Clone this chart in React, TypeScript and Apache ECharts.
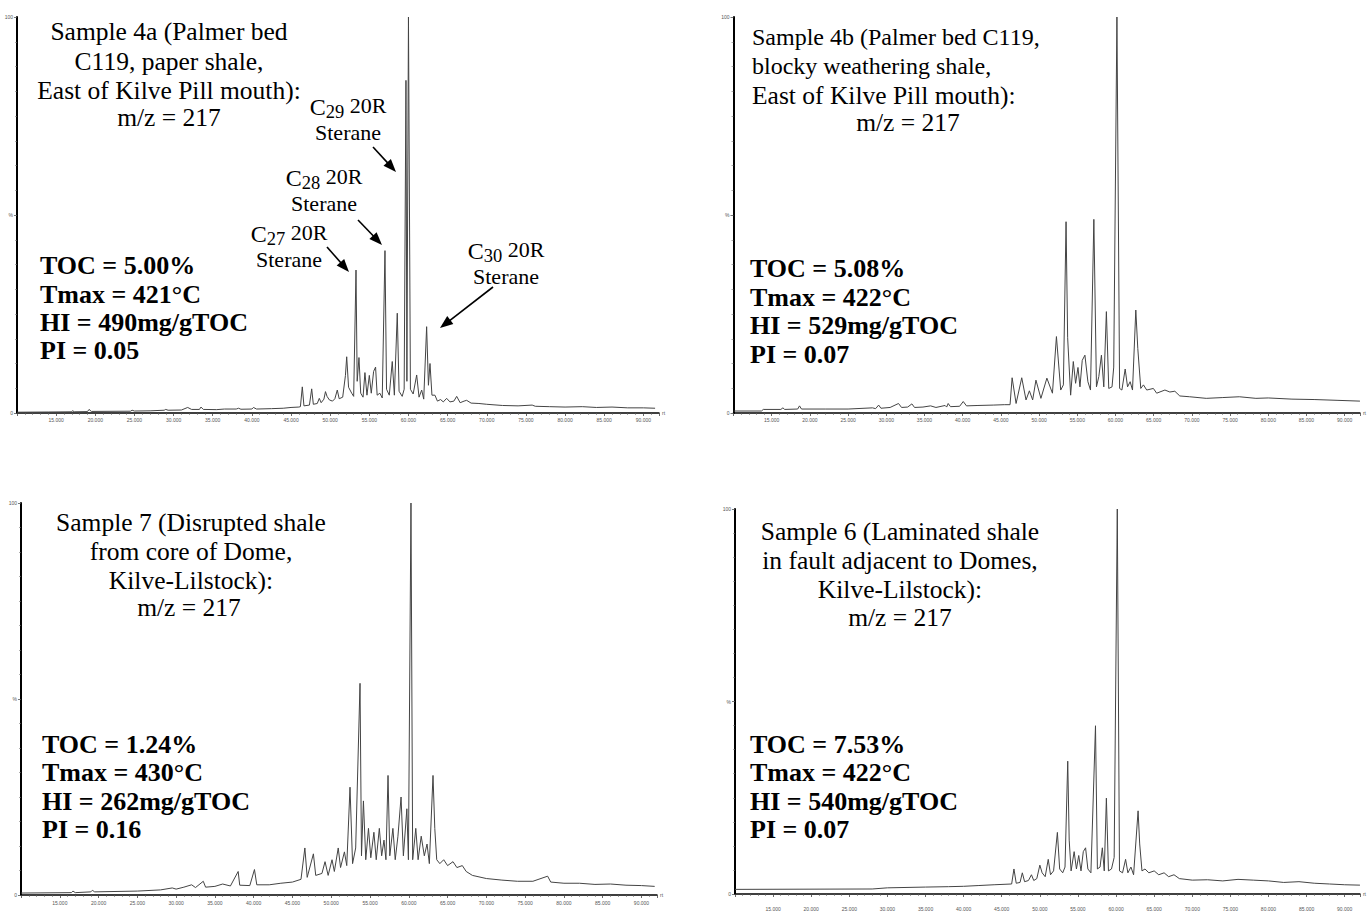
import React, { useEffect, useRef } from 'react';
import * as echarts from 'echarts';

// Retention time (min) vs relative intensity (%)
const sample4a: [number, number][] = [
  [10.0, 0.2], [14.0, 0.25], [17.0, 0.3], [17.1, 0.6], [17.3, 0.3], [19.0, 0.35], [19.2, 0.9], [19.5, 0.4],
  [24.5, 0.45], [24.7, 0.7], [25.0, 0.5], [27.0, 0.55], [28.8, 0.7], [29.0, 0.9], [29.3, 0.7], [31.0, 0.75],
  [31.8, 1.4], [32.3, 0.9], [33.3, 0.9], [33.5, 1.5], [33.8, 0.9], [35.5, 0.85], [36.5, 1.0], [38.0, 1.0],
  [38.3, 1.2], [38.6, 0.95], [40.0, 1.0], [40.2, 1.4], [40.6, 1.0], [42.5, 1.1], [44.0, 1.2], [45.0, 1.4],
  [46.0, 1.5], [46.2, 1.6], [46.44, 6.6], [46.65, 1.8], [47.35, 2.0], [47.64, 6.1], [47.85, 2.2], [48.35, 2.4],
  [48.61, 3.7], [48.85, 2.6], [49.2, 3.5], [49.4, 5.4], [49.6, 4.2], [49.9, 3.3], [50.3, 3.0], [50.6, 3.6],
  [50.91, 5.8], [51.15, 3.6], [51.6, 4.0], [51.95, 9.5], [52.11, 14.2], [52.35, 6.5], [52.75, 5.0], [53.0, 4.2],
  [53.3, 36.1], [53.45, 8.0], [53.68, 14.0], [53.9, 5.0], [54.2, 4.0], [54.44, 10.2], [54.7, 4.5], [55.0, 9.5],
  [55.25, 5.0], [55.55, 10.5], [55.8, 11.6], [56.0, 4.5], [56.35, 5.0], [56.65, 3.8], [57.0, 41.0], [57.2, 6.0],
  [57.55, 4.5], [57.93, 13.0], [58.2, 4.5], [58.57, 25.2], [58.8, 5.5], [59.2, 4.2], [59.45, 6.0], [59.68, 84.0],
  [59.8, 8.0], [60.0, 100.0], [60.25, 6.0], [60.6, 4.8], [61.05, 9.6], [61.35, 4.0], [61.69, 5.8], [61.95, 3.5],
  [62.32, 21.8], [62.55, 7.0], [62.75, 12.5], [63.0, 4.5], [63.38, 4.5], [63.7, 3.0], [64.1, 3.4], [64.45, 2.8],
  [64.88, 3.7], [65.3, 2.8], [65.8, 3.0], [66.16, 4.2], [66.6, 2.6], [67.1, 3.0], [67.43, 3.2], [68.0, 2.5],
  [69.0, 2.4], [70.0, 2.2], [72.0, 1.9], [74.0, 1.8], [75.8, 2.0], [76.2, 1.7], [78.0, 1.6], [80.0, 1.5],
  [82.2, 1.6], [84.0, 1.4], [86.0, 1.5], [88.0, 1.3], [90.0, 1.3], [91.5, 1.2],
];

const sample4b: [number, number][] = [
  [10.0, 0.5], [13.66, 0.5], [13.9, 0.9], [16.2, 0.9], [16.47, 1.3], [16.7, 0.9], [18.4, 1.0], [18.64, 1.8],
  [18.9, 1.0], [22.0, 1.0], [25.0, 1.0], [28.2, 1.3], [28.6, 1.1], [29.0, 2.0], [29.3, 1.2], [30.5, 1.4],
  [31.6, 2.4], [32.0, 1.4], [32.8, 1.5], [33.35, 2.3], [33.7, 1.4], [34.8, 1.5], [35.8, 1.8], [36.5, 1.4],
  [37.7, 1.9], [37.9, 1.5], [38.1, 2.4], [38.4, 1.6], [39.6, 1.7], [40.07, 2.9], [40.5, 1.8], [42.0, 1.9],
  [44.0, 2.0], [45.5, 2.1], [46.2, 2.1], [46.47, 8.9], [46.99, 2.4], [47.73, 8.9], [48.29, 3.3], [48.73, 5.6],
  [49.16, 3.3], [49.59, 8.3], [50.24, 3.7], [51.02, 8.8], [51.75, 5.0], [52.27, 19.3], [52.83, 5.8], [53.18, 7.1],
  [53.53, 48.3], [53.74, 19.0], [54.13, 4.5], [54.48, 13.0], [54.78, 7.5], [55.09, 11.5], [55.35, 6.6], [55.65, 13.3],
  [56.0, 14.6], [56.39, 7.9], [56.73, 5.8], [57.17, 48.9], [57.51, 6.6], [57.82, 9.2], [58.16, 14.6], [58.47, 6.6],
  [58.81, 25.6], [59.12, 6.2], [59.55, 6.6], [59.77, 11.6], [60.19, 100.0], [60.54, 6.2], [60.84, 5.8], [61.27, 11.1],
  [61.58, 6.6], [61.92, 7.9], [62.23, 5.8], [62.66, 26.0], [62.92, 16.3], [63.31, 6.2], [63.66, 7.1], [64.09, 5.8],
  [64.96, 6.2], [65.39, 5.0], [66.47, 5.8], [67.12, 5.3], [67.77, 5.5], [68.42, 4.3], [69.71, 4.1], [71.88, 3.7],
  [74.05, 3.9], [76.21, 4.1], [78.38, 3.7], [80.0, 3.8], [83.1, 3.5], [86.0, 3.4], [89.0, 3.2], [92.0, 3.0],
];

const sample7: [number, number][] = [
  [10.0, 0.5], [16.5, 0.6], [16.7, 1.0], [17.0, 0.6], [19.0, 0.8], [19.2, 1.2], [19.5, 0.8], [25.0, 1.0],
  [28.0, 1.3], [29.5, 1.8], [30.0, 1.5], [31.0, 2.0], [32.0, 2.6], [32.5, 1.9], [33.5, 3.5], [33.8, 2.0],
  [35.0, 2.2], [36.0, 2.8], [37.0, 2.3], [38.0, 6.0], [38.2, 2.5], [39.5, 2.4], [40.1, 6.5], [40.4, 2.6],
  [42.0, 2.6], [43.5, 3.0], [45.0, 3.3], [46.1, 4.0], [46.6, 12.0], [46.9, 4.5], [47.7, 10.5], [48.0, 5.0],
  [48.8, 5.5], [49.2, 8.5], [49.6, 5.0], [50.1, 9.0], [50.4, 6.0], [50.9, 12.0], [51.2, 7.0], [51.7, 11.0],
  [52.0, 7.5], [52.42, 27.5], [52.75, 8.0], [53.15, 12.0], [53.71, 54.0], [53.9, 10.0], [54.15, 24.0], [54.45, 9.0],
  [54.8, 17.0], [55.1, 9.5], [55.5, 16.0], [55.8, 9.0], [56.2, 17.0], [56.5, 10.0], [56.8, 14.0], [57.05, 9.0],
  [57.32, 30.5], [57.55, 10.0], [57.95, 17.0], [58.25, 9.0], [58.6, 15.0], [59.0, 25.0], [59.3, 10.0], [59.75, 22.0],
  [59.95, 9.0], [60.28, 100.0], [60.5, 9.0], [60.9, 17.0], [61.2, 9.0], [61.6, 15.0], [62.0, 10.0], [62.35, 13.0],
  [62.65, 8.0], [63.12, 30.5], [63.35, 17.0], [63.6, 9.0], [64.0, 8.0], [64.5, 9.0], [65.0, 7.5], [65.7, 8.5],
  [66.2, 7.0], [66.9, 7.5], [67.4, 6.0], [68.2, 5.0], [70.0, 4.2], [72.0, 3.8], [74.0, 3.5], [76.0, 3.5],
  [77.9, 4.8], [78.3, 3.3], [80.0, 3.0], [82.0, 3.0], [84.0, 2.7], [86.0, 2.8], [88.0, 2.5], [90.0, 2.4], [91.7, 2.2],
];

const sample6: [number, number][] = [
  [10.0, 1.2], [28.0, 1.3], [30.0, 1.6], [35.0, 1.8], [38.0, 1.9], [40.0, 2.0], [42.0, 2.2], [44.0, 2.4],
  [46.3, 2.6], [46.6, 6.5], [46.9, 2.8], [47.4, 3.0], [47.7, 5.5], [48.0, 3.2], [48.5, 3.5], [48.9, 5.0],
  [49.2, 3.5], [49.6, 4.0], [50.0, 7.5], [50.3, 5.5], [50.7, 4.5], [51.1, 9.0], [51.4, 5.0], [51.8, 6.0],
  [52.3, 16.0], [52.6, 6.5], [53.0, 5.5], [53.3, 7.0], [53.66, 34.5], [53.85, 14.0], [54.1, 6.0], [54.5, 11.0],
  [54.8, 6.5], [55.1, 10.0], [55.4, 6.0], [55.7, 11.0], [56.0, 12.0], [56.3, 6.5], [56.7, 5.5], [57.3, 43.7],
  [57.55, 6.5], [57.9, 7.0], [58.2, 12.0], [58.45, 6.0], [58.73, 24.9], [59.0, 6.0], [59.4, 6.5], [59.75, 9.5],
  [60.16, 100.0], [60.45, 6.0], [60.85, 5.5], [61.25, 9.0], [61.55, 5.5], [61.95, 7.0], [62.3, 5.0], [62.89, 21.6],
  [63.1, 13.0], [63.4, 6.0], [63.8, 6.5], [64.3, 5.5], [65.0, 6.0], [65.6, 5.0], [66.3, 5.5], [66.9, 4.5],
  [67.6, 5.0], [68.3, 4.0], [70.0, 3.6], [72.0, 3.7], [74.0, 3.4], [76.0, 3.8], [78.0, 3.6], [80.0, 3.4],
  [82.0, 3.0], [84.0, 3.2], [86.0, 2.8], [88.0, 2.6], [90.0, 2.4], [92.0, 2.3],
];

const traces = [sample4a, sample4b, sample7, sample6];

const titles: string[][] = [
  ['Sample 4a (Palmer bed', 'C119, paper shale,', 'East of Kilve Pill mouth):', 'm/z = 217'],
  ['Sample 4b (Palmer bed C119,', 'blocky weathering shale,', 'East of Kilve Pill mouth):', 'm/z = 217'],
  ['Sample 7 (Disrupted shale', 'from core of Dome,', 'Kilve-Lilstock):', 'm/z = 217'],
  ['Sample 6 (Laminated shale', 'in fault adjacent to Domes,', 'Kilve-Lilstock):', 'm/z = 217'],
];

const geochem: string[][] = [
  ['TOC = 5.00%', 'Tmax = 421°C', 'HI = 490mg/gTOC', 'PI = 0.05'],
  ['TOC = 5.08%', 'Tmax = 422°C', 'HI = 529mg/gTOC', 'PI = 0.07'],
  ['TOC = 1.24%', 'Tmax = 430°C', 'HI = 262mg/gTOC', 'PI = 0.16'],
  ['TOC = 7.53%', 'Tmax = 422°C', 'HI = 540mg/gTOC', 'PI = 0.07'],
];

const steraneCarbons = ['29', '28', '27', '30'];

const X_MIN = 10;
const X_MAX = 92;
const X_TICK = 5;

// layout (pixels)
const GRIDS = [
  { left: 17, top: 17, width: 642, height: 396 },
  { left: 733.5, top: 17, width: 631, height: 396 },
  { left: 21, top: 503, width: 636, height: 392 },
  { left: 735, top: 509, width: 631, height: 395 },
];
const X_LABEL_MARGIN = [4, 4, 5, 12];

const SERIF = '"Liberation Serif", "Times New Roman", serif';

// title line placements: [x, y, align, font size]
const TITLE_POS: [number, number, string, number][][] = [
  [[169, 31, 'center', 25.5], [169, 61, 'center', 25.5], [169, 90, 'center', 25.5], [169, 117, 'center', 25.5]],
  [[752, 37, 'left', 24], [752, 66, 'left', 24], [752, 95, 'left', 25.5], [908, 122, 'center', 25.5]],
  [[191, 522, 'center', 25.5], [191, 551, 'center', 25.5], [191, 580, 'center', 25.5], [189, 607, 'center', 25.5]],
  [[900, 531, 'center', 25.5], [900, 560, 'center', 25.5], [900, 589, 'center', 25.5], [900, 617, 'center', 25.5]],
];
const GEO_POS: [number, number[]][] = [
  [40, [265, 294, 322, 350]],
  [750, [268, 297, 325, 354]],
  [42, [744, 772, 801, 829]],
  [750, [744, 772, 801, 829]],
];
// peak labels: [centre x, y of first line's centre]
const LABEL_POS = [
  [348, 107],
  [324, 178],
  [289, 234],
  [506, 251],
];
const ARROWS = [
  [373, 147, 396, 172],
  [358, 220, 382, 245],
  [327, 247, 349, 272],
  [493, 287, 440, 328],
];

function txt(text: string, x: number, y: number, font: string, align = 'left') {
  return {
    type: 'text',
    x,
    y,
    silent: true,
    style: { text, font, fill: '#000', textAlign: align, textVerticalAlign: 'middle' },
  };
}

function peakLabel(carbon: string, cx: number, cy: number) {
  return {
    type: 'text',
    x: cx,
    y: cy - 12,
    silent: true,
    style: {
      text: `{c|C}{s|${carbon}}{n| 20R}\n{t|Sterane}`,
      fill: '#000',
      textAlign: 'center',
      textVerticalAlign: 'top',
      rich: {
        c: { fontSize: 24, fontFamily: SERIF, lineHeight: 24, fill: '#000' },
        s: { fontSize: 18.5, fontFamily: SERIF, lineHeight: 24, padding: [9, 0, 0, 0], fill: '#000' },
        n: { fontSize: 22, fontFamily: SERIF, lineHeight: 24, padding: [0, 0, 3, 0], fill: '#000' },
        t: { fontSize: 22, fontFamily: SERIF, lineHeight: 26, fill: '#000' },
      },
    },
  };
}

function arrow(x1: number, y1: number, x2: number, y2: number) {
  const dx = x2 - x1;
  const dy = y2 - y1;
  const len = Math.sqrt(dx * dx + dy * dy);
  const ux = dx / len;
  const uy = dy / len;
  const L = 13;
  const W = 5;
  const bx = x2 - ux * L;
  const by = y2 - uy * L;
  return [
    { type: 'line', silent: true, shape: { x1, y1, x2: bx + ux * 2, y2: by + uy * 2 }, style: { stroke: '#000', lineWidth: 1.6 } },
    {
      type: 'polygon',
      silent: true,
      shape: { points: [[x2, y2], [bx - uy * W, by + ux * W], [bx + uy * W, by - ux * W]] },
      style: { fill: '#000' },
    },
  ];
}

export default function App() {
  const ref = useRef<HTMLDivElement>(null);

  useEffect(() => {
    const chart = echarts.init(ref.current!, null, { renderer: 'svg' });

    const graphic: any[] = [];
    titles.forEach((lines, p) => {
      lines.forEach((line, i) => {
        const [x, y, a, fs] = TITLE_POS[p][i];
        graphic.push(txt(line, x, y, `${fs}px ${SERIF}`, a));
      });
    });
    geochem.forEach((lines, p) => {
      const [x, ys] = GEO_POS[p];
      lines.forEach((line, i) => graphic.push(txt(line, x, ys[i], `bold 26px ${SERIF}`)));
    });
    steraneCarbons.forEach((c, i) => {
      const [x, y] = LABEL_POS[i];
      graphic.push(peakLabel(c, x, y));
    });
    ARROWS.forEach((a) => graphic.push(...arrow(a[0], a[1], a[2], a[3])));

    const option: any = {
      animation: false,
      backgroundColor: '#fff',
      grid: GRIDS.map((g) => ({ ...g, containLabel: false })),
      xAxis: GRIDS.map((_, i) => ({
        type: 'value',
        gridIndex: i,
        min: X_MIN,
        max: X_MAX,
        interval: X_TICK,
        name: 'rt',
        nameLocation: 'end',
        nameGap: 3,
        nameTextStyle: { fontSize: 5, color: '#555', fontFamily: 'Liberation Sans' },
        axisLine: { show: true, onZero: false, lineStyle: { color: '#000', width: 1.5 } },
        axisTick: { show: true, length: 3, lineStyle: { color: '#444', width: 0.8 } },
        minorTick: { show: true, splitNumber: 5, length: 2, lineStyle: { color: '#666', width: 0.6 } },
        axisLabel: {
          fontSize: 5,
          color: '#555',
          margin: X_LABEL_MARGIN[i],
          fontFamily: 'Liberation Sans',
          showMinLabel: false,
          showMaxLabel: false,
          formatter: (v: number) => v.toFixed(3),
        },
        splitLine: { show: false },
      })),
      yAxis: GRIDS.map((_, i) => ({
        type: 'value',
        gridIndex: i,
        min: 0,
        max: 100,
        interval: 50,
        axisLine: { show: true, onZero: false, lineStyle: { color: '#000', width: 2 } },
        axisTick: { show: true, length: 3, lineStyle: { color: '#555', width: 0.8 } },
        minorTick: { show: true, splitNumber: 8, length: 2, lineStyle: { color: '#777', width: 0.6 } },
        axisLabel: {
          fontSize: 5,
          color: '#555',
          margin: 4,
          fontFamily: 'Liberation Sans',
          formatter: (v: number) => (v === 50 ? '%' : String(v)),
        },
        splitLine: { show: false },
      })),
      series: traces.map((d, i) => ({
        type: 'line',
        xAxisIndex: i,
        yAxisIndex: i,
        data: d,
        symbol: 'none',
        silent: true,
        lineStyle: { color: '#444', width: 1 },
      })),
      graphic,
    };

    chart.setOption(option);
    return () => chart.dispose();
  }, []);

  return (
    <div
      ref={ref}
      style={{ position: 'fixed', left: 0, top: 0, width: 1367, height: 911, background: '#fff' }}
    />
  );
}
